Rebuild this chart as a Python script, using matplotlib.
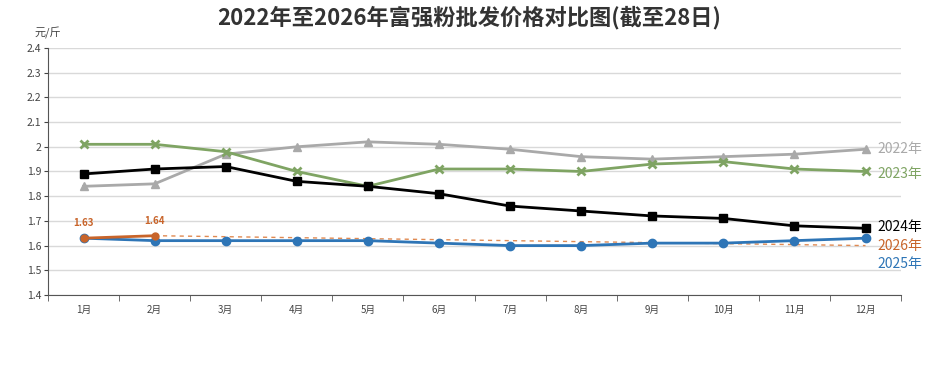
import matplotlib
matplotlib.use("Agg")
from matplotlib import pyplot as plt
from matplotlib.ticker import FuncFormatter

plt.rcParams['font.family'] = ['Noto Sans CJK SC', 'DejaVu Sans']

months = ['1月', '2月', '3月', '4月', '5月', '6月', '7月', '8月', '9月', '10月', '11月', '12月']
price_2022 = [1.84, 1.85, 1.97, 2.00, 2.02, 2.01, 1.99, 1.96, 1.95, 1.96, 1.97, 1.99]
price_2023 = [2.01, 2.01, 1.98, 1.90, 1.84, 1.91, 1.91, 1.90, 1.93, 1.94, 1.91, 1.90]
price_2024 = [1.89, 1.91, 1.92, 1.86, 1.84, 1.81, 1.76, 1.74, 1.72, 1.71, 1.68, 1.67]
price_2025 = [1.63, 1.62, 1.62, 1.62, 1.62, 1.61, 1.60, 1.60, 1.61, 1.61, 1.62, 1.63]
price_2026 = [1.63, 1.64]
trend_2026_x = [2, 12]
trend_2026_y = [1.64, 1.60]
y_ticks = [1.4, 1.5, 1.6, 1.7, 1.8, 1.9, 2.0, 2.1, 2.2, 2.3, 2.4]

c_2022 = '#a9a9a9'
c_2023 = '#7fa463'
c_2024 = '#000000'
c_2025 = '#2e75b6'
c_2026 = '#c8642a'

x = list(range(1, 13))

fig = plt.figure(figsize=(9.38, 3.9), dpi=100)
ax = fig.add_axes([0.0512, 0.2436, 0.9094, 0.6334])

ax.plot(x, price_2022, color=c_2022, lw=2, marker='^', ms=6, zorder=3)
ax.plot(x, price_2023, color=c_2023, lw=2, marker='x', ms=6, mew=2, zorder=3)
ax.plot(x, price_2024, color=c_2024, lw=2, marker='s', ms=6, zorder=4)
ax.plot(trend_2026_x, trend_2026_y, color='#e08a52', lw=1, ls=(0, (3, 3)), zorder=2)
ax.plot(x, price_2025, color=c_2025, lw=2, marker='o', ms=6, zorder=3)
ax.plot(x[:len(price_2026)], price_2026, color=c_2026, lw=2, marker='o', ms=5, zorder=5)

for xi, v in zip(x, price_2026):
    ax.annotate('%.2f' % v, (xi, v), xytext=(0, 7), textcoords='offset points',
                ha='center', va='bottom', fontsize=7, color=c_2026, fontweight='bold')

# labels at the right end of each line
end_labels = [('2022年', price_2022[-1], c_2022),
              ('2023年', price_2023[-1] - 0.01, c_2023),
              ('2024年', price_2024[-1] + 0.005, c_2024),
              ('2026年', 1.60, c_2026),
              ('2025年', 1.525, c_2025)]
for text, yv, col in end_labels:
    ax.text(12.17, yv, text, color=col, fontsize=10, va='center', ha='left', clip_on=False)

ax.set_xlim(0.5, 12.5)
ax.set_ylim(1.4, 2.4)
ax.set_yticks(y_ticks)
ax.yaxis.set_major_formatter(FuncFormatter(lambda v, p: '%g' % round(v, 2)))
ax.set_xticks(x)
ax.set_xticklabels(months)
ax.set_xticks([i + 0.5 for i in range(0, 13)], minor=True)
ax.tick_params(axis='x', which='major', length=0, labelsize=7, colors='#444444', pad=7)
ax.tick_params(axis='x', which='minor', length=4, color='#555555')
ax.tick_params(axis='y', labelsize=7.5, colors='#444444', length=3, pad=2)
ax.grid(axis='y', color='#d9d9d9', lw=1)
ax.set_axisbelow(True)
for side in ['top', 'right']:
    ax.spines[side].set_visible(False)
ax.spines['left'].set_color('#555555')
ax.spines['bottom'].set_color('#555555')

fig.text(0.037, 0.9, '元/斤', fontsize=8, color='#444444', va='bottom')
fig.suptitle('2022年至2026年富强粉批发价格对比图(截至28日)', x=0.5, y=0.985,
             fontsize=16, fontweight='bold', color='#333333', va='top')

fig.savefig('out.png', dpi=100)
